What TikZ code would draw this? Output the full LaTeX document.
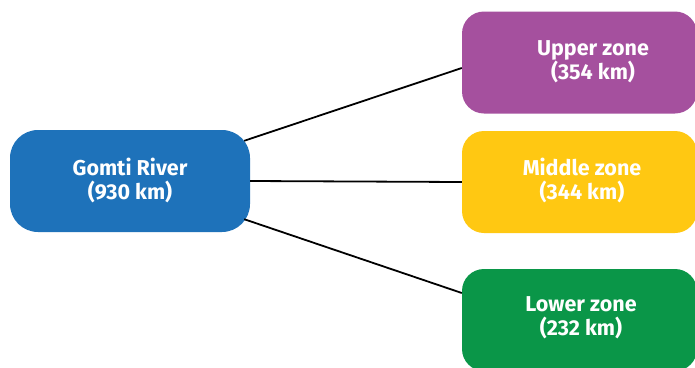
\documentclass[tikz,border=0pt]{standalone}
\usepackage{fontspec}
\setmainfont{Fira Sans}
\definecolor{riverblue}{HTML}{1E72BA}
\definecolor{upperpurple}{HTML}{A5509E}
\definecolor{middleyellow}{HTML}{FFC812}
\definecolor{lowergreen}{HTML}{0A9648}
\begin{document}
\begin{tikzpicture}[x=1pt,y=-1pt,
  zone/.style={rounded corners=22pt,minimum width=235pt,minimum height=102pt,inner sep=0pt},
  ztext/.style={text=white,font=\bfseries\fontsize{21.5}{24}\selectfont,align=center}]
\useasboundingbox (0,0) rectangle (695,367);
\clip (0,0) rectangle (695,367);
\node[zone,fill=riverblue,minimum width=240pt,rounded corners=28pt] (gomti) at (130,181) {};
\node[ztext] (gomtitext) at (130,180) {Gomti River\\(930 km)};
\node[zone,fill=upperpurple] (upper) at (579.5,62.5) {};
\node[ztext] (uppertext) at (593,62) {Upper zone\\(354 km)};
\node[zone,fill=middleyellow] (middle) at (579.5,182) {};
\node[ztext] (middletext) at (582,180) {Middle zone\\(344 km)};
\node[zone,fill=lowergreen] (lower) at (579.5,320) {};
\node[ztext] (lowertext) at (581,318) {Lower zone\\(232 km)};

\draw[line width=1.8pt] ([xshift=-6pt,yshift=-11pt]gomti.north east)--([yshift=-5.5pt]upper.west);
\draw[line width=1.8pt] (gomti.east)--(middle.west);
\draw[line width=1.8pt] ([xshift=-6pt,yshift=13pt]gomti.south east)--([yshift=27pt]lower.west);
\end{tikzpicture}
\end{document}
